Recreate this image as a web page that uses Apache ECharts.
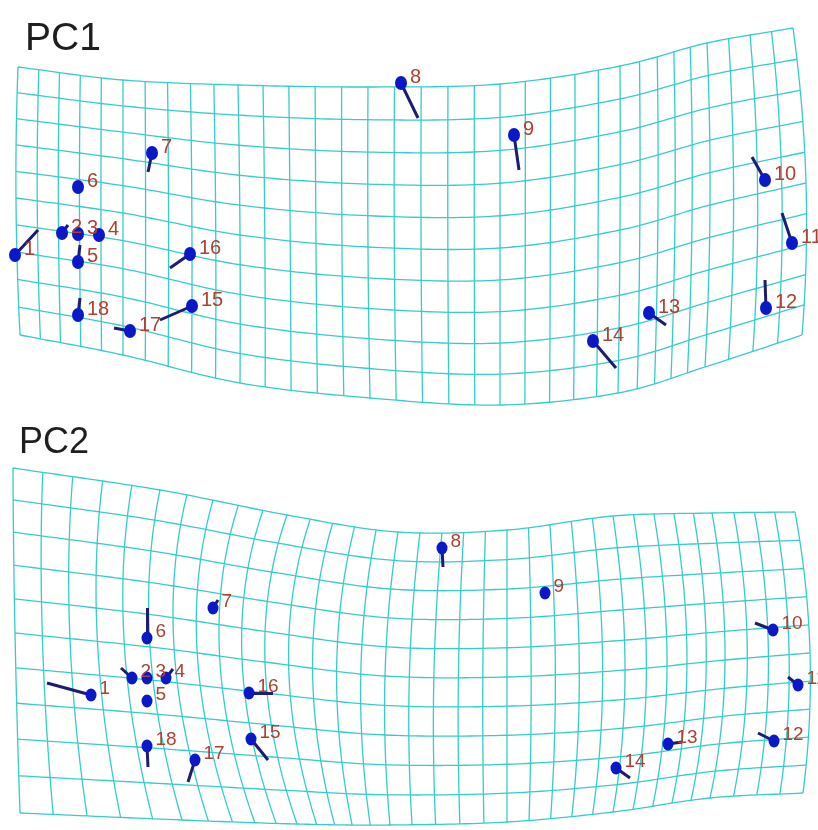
<!DOCTYPE html>
<html>
<head>
<meta charset="utf-8">
<script src="https://cdn.jsdelivr.net/npm/echarts@6/dist/echarts.min.js"></script>
<style>html,body{margin:0;padding:0;background:#fff;}#chart{width:818px;height:830px;}</style>
</head>
<body>
<div id="chart"></div>
<script>
// ---- Landmark numbers ----
const landmarkIds = [1,2,3,4,5,6,7,8,9,10,11,12,13,14,15,16,17,18];

// ---- PC1 landmarks (dot) and vector ends (pixel-space) ----
const pc1X    = [15,62,78,99,78,78,152,401,514,765,792,766,649,593,192,190,130,78];
const pc1Y    = [255,233,234,235,262,187,153,83,135,180,243,308,313,341,306,254,331,315];
const pc1EndX = [38,68,78,99,80,78,148,418,519,752,782,765,666,616,160,170,114,80];
const pc1EndY = [230,225,234,235,245,187,172,118,170,157,213,280,325,368,320,268,328,298];

// ---- PC2 landmarks ----
const pc2X    = [91,132,147,166,147,147,213,442,545,773,798,774,668,616,251,249,195,147];
const pc2Y    = [695,678,678,678,701,638,608,548,593,630,685,741,744,768,739,693,760,746];
const pc2EndX = [47,121,147,173,147,147,218,443,545,755,788,758,682,630,268,273,188,148];
const pc2EndY = [683,668,678,669,701,608,600,567,593,623,677,733,742,778,760,693,782,767];

// ---- Deformation grid: control nodes at key columns / key rows ----
const gridCols = 34, gridRows = 10;
const keyCols = [0,5,10,15,20,25,30,34];
const keyRows = [0,5,10];
const pc1KeyX = [[18,123,238,368,500,620,707,793],[16,123,240,368,500,620,710,806],[20,123,240,370,500,618,705,802]];
const pc1KeyY = [[67,80,85,87,84,66,43,28],[198,213,235,247,248,230,205,183],[335,355,383,398,405,393,367,335]];
const pc2KeyX = [[13,160,287,398,507,613,712,795],[15,150,265,385,507,625,725,810],[20,182,297,390,507,613,710,803]];
const pc2KeyY = [[468,490,515,532,530,516,513,512],[633,647,662,676,677,670,660,653],[813,820,824,825,822,812,798,793]];

const titles = ['PC1','PC2'];

function catmull(p, u) {
  const n = p.length;
  let i = Math.min(Math.floor(u), n - 2);
  const t = u - i;
  const p0 = i > 0 ? p[i-1] : 2*p[i] - p[i+1];
  const p1 = p[i], p2 = p[i+1];
  const p3 = i + 2 < n ? p[i+2] : 2*p[i+1] - p[i];
  const t2 = t*t, t3 = t2*t;
  return 0.5*((2*p1) + (-p0+p2)*t + (2*p0-5*p1+4*p2-p3)*t2 + (-p0+3*p1-3*p2+p3)*t3);
}
function colToU(c) {
  for (let i = 0; i < keyCols.length - 1; i++) {
    if (c <= keyCols[i+1]) return i + (c - keyCols[i])/(keyCols[i+1]-keyCols[i]);
  }
  return keyCols.length - 1;
}
function lagr(vals, r) {
  const [r0,r1,r2] = keyRows;
  return vals[0]*((r-r1)*(r-r2))/((r0-r1)*(r0-r2)) +
         vals[1]*((r-r0)*(r-r2))/((r1-r0)*(r1-r2)) +
         vals[2]*((r-r0)*(r-r1))/((r2-r0)*(r2-r1));
}
function node(KX, KY, r, c) {
  const u = colToU(c);
  const xs = KX.map(row => catmull(row, u));
  const ys = KY.map(row => catmull(row, u));
  return [lagr(xs, r), lagr(ys, r)];
}
function meshLines(KX, KY) {
  const out = [];
  const sub = 4;
  for (let r = 0; r <= gridRows; r++) {
    const pts = [];
    for (let c = 0; c <= gridCols * sub; c++) pts.push(node(KX, KY, r, c/sub));
    out.push({coords: pts});
  }
  for (let c = 0; c <= gridCols; c++) {
    const pts = [];
    for (let r = 0; r <= gridRows * sub; r++) pts.push(node(KX, KY, r/sub, c));
    out.push({coords: pts});
  }
  return out;
}
function sticks(X, Y, EX, EY) {
  return X.map((x, i) => ({coords: [[x, Y[i]], [EX[i], EY[i]]]}))
          .filter(d => d.coords[0][0] !== d.coords[1][0] || d.coords[0][1] !== d.coords[1][1]);
}
function dots(X, Y) { return X.map((x, i) => [x, Y[i], landmarkIds[i]]); }

const chart = echarts.init(document.getElementById('chart'), null, {renderer: 'canvas'});
const meshStyle = {color: '#35cccc', width: 1.3, opacity: 1};
const stickStyle = {color: '#1c1c72', width: 3, opacity: 1};
function labelCfg(size) {
  return {show: true, position: 'right', distance: 3, offset: [0, -6],
          formatter: p => String(p.value[2]), color: '#ad4030',
          fontSize: size, fontFamily: 'Liberation Sans, Arial, sans-serif'};
}

chart.setOption({
  backgroundColor: '#ffffff',
  animation: false,
  title: [
    {text: titles[0], left: 20, top: 15, textStyle: {fontSize: 39, fontWeight: 'normal', color: '#1e1e1e', fontFamily: 'Liberation Sans, Arial, sans-serif'}},
    {text: titles[1], left: 14, top: 420, textStyle: {fontSize: 36, fontWeight: 'normal', color: '#1e1e1e', fontFamily: 'Liberation Sans, Arial, sans-serif'}}
  ],
  grid: {left: 0, right: 0, top: 0, bottom: 0},
  xAxis: {type: 'value', min: 0, max: 818, show: false},
  yAxis: {type: 'value', min: 0, max: 830, inverse: true, show: false},
  series: [
    {type: 'lines', coordinateSystem: 'cartesian2d', polyline: true, silent: true, z: 1,
     lineStyle: meshStyle, data: meshLines(pc1KeyX, pc1KeyY)},
    {type: 'lines', coordinateSystem: 'cartesian2d', polyline: true, silent: true, z: 1,
     lineStyle: meshStyle, data: meshLines(pc2KeyX, pc2KeyY)},
    {type: 'lines', coordinateSystem: 'cartesian2d', z: 3, lineStyle: stickStyle,
     data: sticks(pc1X, pc1Y, pc1EndX, pc1EndY)},
    {type: 'lines', coordinateSystem: 'cartesian2d', z: 3, lineStyle: stickStyle,
     data: sticks(pc2X, pc2Y, pc2EndX, pc2EndY)},
    {type: 'scatter', z: 4, symbol: 'circle', symbolSize: [12, 14],
     itemStyle: {color: '#0a18c8', opacity: 1}, label: labelCfg(20), data: dots(pc1X, pc1Y)},
    {type: 'scatter', z: 4, symbol: 'circle', symbolSize: [11, 13],
     itemStyle: {color: '#0a18c8', opacity: 1}, label: labelCfg(19), data: dots(pc2X, pc2Y)}
  ]
});
</script>
</body>
</html>
